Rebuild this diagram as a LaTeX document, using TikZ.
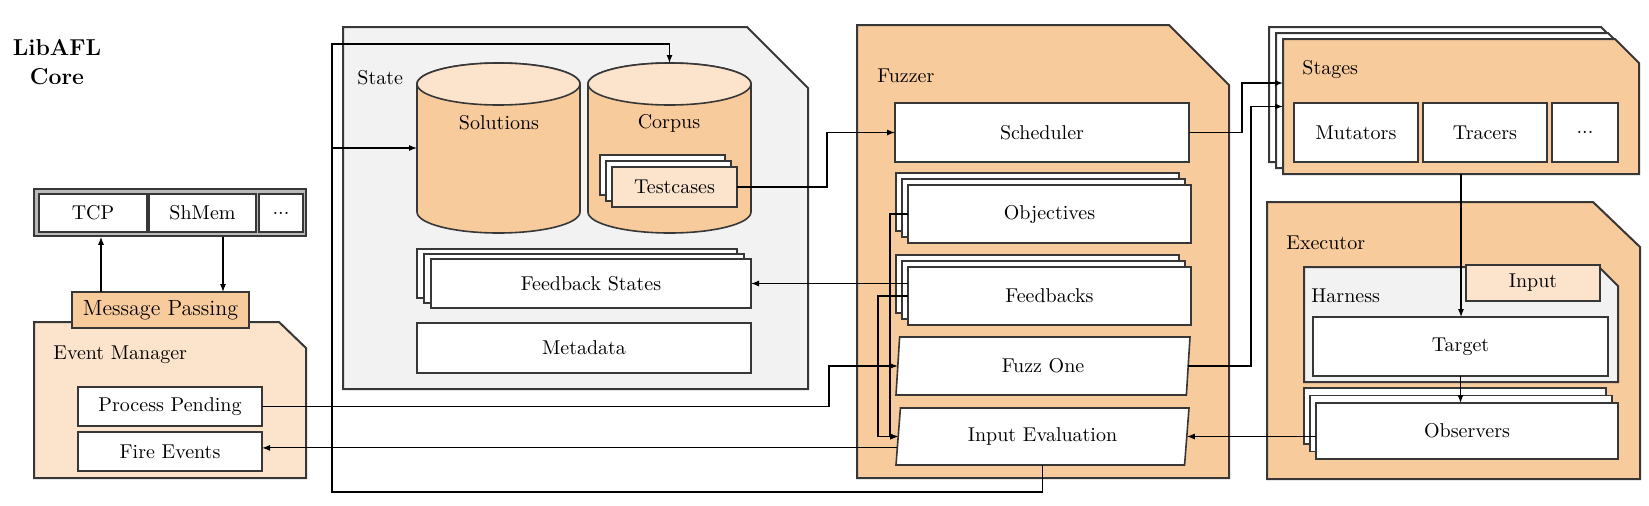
\documentclass[tikz,border=0pt]{standalone}
\usetikzlibrary{arrows.meta,shapes.geometric,shadows,calc}
\definecolor{peach}{RGB}{248,203,157}
\definecolor{lpeach}{RGB}{252,228,204}
\definecolor{lgray}{RGB}{242,242,242}
\definecolor{bcol}{RGB}{55,55,55}
\begin{document}
\begin{tikzpicture}[x=0.5pt,y=-0.5pt,
  box/.style={draw=bcol, line width=0.8pt, fill=white, inner sep=0pt, outer sep=0pt},
  cont/.style={draw=bcol, line width=1pt},
  arr/.style={line width=0.55pt, -{Latex[length=4pt,width=3pt]}},
  lbl/.style={anchor=west, inner sep=0pt},
  plain/.style={inner sep=0pt, outer sep=0pt},
  sh1/.style={copy shadow={shadow xshift=-#1, shadow yshift=#1, fill=white, draw=bcol}},
]
\useasboundingbox (0,0) rectangle (1649,505);

% title
\node[plain, font=\fontsize{11.5}{14.75}\selectfont\bfseries, align=center] (title) at (57,62) {LibAFL\\Core};

% communication channels
\node[draw=bcol, line width=0.8pt, fill=gray!55, minimum width=136pt, minimum height=23.5pt, inner sep=0pt] (tcpg) at (170,212.5) {};
\node[box, minimum width=54pt, minimum height=19pt] (tcp) at (93,213) {TCP};
\node[box, minimum width=53.5pt, minimum height=19pt] (shm) at (202.5,213) {ShMem};
\node[box, minimum width=22pt, minimum height=19pt] (tdots) at (281,213) {...};

% event manager
\draw[cont, fill=lpeach] (34,322) -- (279,322) -- (306,348) -- (306,478) -- (34,478) -- cycle;
\node[box, fill=peach, minimum width=88.5pt, minimum height=18pt, font=\fontsize{11}{13}\selectfont] (mp) at (160.5,310) {Message Passing};
\node[lbl] (eml) at (53,355) {Event Manager};
\node[box, minimum width=92pt, minimum height=19.5pt] (pp) at (170,406.5) {Process Pending};
\node[box, minimum width=92pt, minimum height=19.5pt] (fe) at (170,451.5) {Fire Events};

% state
\draw[cont, fill=lgray] (343,27) -- (747,27) -- (808,88) -- (808,389) -- (343,389) -- cycle;
\node[lbl] (stl) at (357,78) {State};

% solutions cylinder
\filldraw[draw=bcol, line width=0.8pt, fill=peach] (417,84) -- (417,212) arc[start angle=180,end angle=360,x radius=40.75pt,y radius=10.5pt] -- (580,84) arc[start angle=0,end angle=180,x radius=40.75pt,y radius=10.5pt] -- cycle;
\filldraw[draw=bcol, line width=0.8pt, fill=lpeach] (498.5,84) ellipse[x radius=40.75pt, y radius=10.5pt];
\node[plain, minimum width=81.5pt, minimum height=85pt] (sol) at (498.5,148) {};
\node[plain] (solt) at (499,123) {Solutions};

% corpus cylinder
\filldraw[draw=bcol, line width=0.8pt, fill=peach] (588,84) -- (588,212) arc[start angle=180,end angle=360,x radius=40.75pt,y radius=10.5pt] -- (751,84) arc[start angle=0,end angle=180,x radius=40.75pt,y radius=10.5pt] -- cycle;
\filldraw[draw=bcol, line width=0.8pt, fill=lpeach] (669.5,84) ellipse[x radius=40.75pt, y radius=10.5pt];
\node[plain, minimum width=81.5pt, minimum height=85pt] (cor) at (669.5,148) {};
\node[plain] (cort) at (669,123) {Corpus};

\node[box, fill=lpeach, copy shadow={shadow xshift=-6pt, shadow yshift=6pt, fill=white, draw=bcol}, copy shadow={shadow xshift=-3pt, shadow yshift=3pt, fill=white, draw=bcol}, minimum width=62.5pt, minimum height=20pt] (tc) at (674.5,187) {Testcases};

\node[box, copy shadow={shadow xshift=-7pt, shadow yshift=5pt, fill=white, draw=bcol}, copy shadow={shadow xshift=-3.5pt, shadow yshift=2.5pt, fill=white, draw=bcol}, minimum width=160pt, minimum height=24.5pt] (fbs) at (591,283.5) {Feedback States};
\node[box, minimum width=167pt, minimum height=25pt] (md) at (584,348) {Metadata};

% fuzzer
\draw[cont, fill=peach] (857,25) -- (1169,25) -- (1229,85) -- (1229,478) -- (857,478) -- cycle;
\node[lbl] (fzl) at (877,76) {Fuzzer};
\node[box, minimum width=147pt, minimum height=29.5pt] (sch) at (1042,132.5) {Scheduler};
\node[box, copy shadow={shadow xshift=-6pt, shadow yshift=6pt, fill=white, draw=bcol}, copy shadow={shadow xshift=-3pt, shadow yshift=3pt, fill=white, draw=bcol}, minimum width=141.5pt, minimum height=29pt] (obj) at (1049.5,214) {Objectives};
\node[box, copy shadow={shadow xshift=-6pt, shadow yshift=6pt, fill=white, draw=bcol}, copy shadow={shadow xshift=-3pt, shadow yshift=3pt, fill=white, draw=bcol}, minimum width=141.5pt, minimum height=29pt] (fb) at (1049.5,296) {Feedbacks};
\node[box, trapezium, trapezium left angle=76, trapezium right angle=104, trapezium stretches body=true, minimum width=147pt, minimum height=29pt] (fo) at (1043,366) {Fuzz One};
\node[box, trapezium, trapezium left angle=76, trapezium right angle=104, trapezium stretches body=true, minimum width=146.5pt, minimum height=28.5pt] (ie) at (1042.5,436.5) {Input Evaluation};

% stages
\draw[cont, fill=white] (1269,27) -- (1601,27) -- (1625,51) -- (1625,162) -- (1269,162) -- cycle;
\draw[cont, fill=white] (1276,33) -- (1608,33) -- (1632,57) -- (1632,168) -- (1276,168) -- cycle;
\draw[cont, fill=peach] (1283,39) -- (1615,39) -- (1639,63) -- (1639,174) -- (1283,174) -- cycle;
\node[plain, minimum width=178pt, minimum height=67.5pt] (stg) at (1461,106.5) {};
\node[lbl] (stgl) at (1302,70) {Stages};
\node[box, minimum width=62pt, minimum height=29.5pt] (mut) at (1356,132.5) {Mutators};
\node[box, minimum width=62pt, minimum height=29.5pt] (trc) at (1485,132.5) {Tracers};
\node[box, minimum width=33pt, minimum height=29.5pt] (sdots) at (1585,132.5) {...};

% executor
\draw[cont, fill=peach] (1267,202) -- (1593,202) -- (1640,247) -- (1640,479) -- (1267,479) -- cycle;
\node[lbl] (exl) at (1286,243) {Executor};
\draw[cont, fill=lgray] (1304,267) -- (1599,267) -- (1618,286) -- (1618,382) -- (1304,382) -- cycle;
\node[lbl] (hl) at (1311,296) {Harness};
\node[box, fill=lpeach, minimum width=67pt, minimum height=18pt] (inp) at (1533,283) {Input};
\node[box, minimum width=147.5pt, minimum height=29.5pt] (tgt) at (1460.5,346.5) {Target};
\node[box, copy shadow={shadow xshift=-6pt, shadow yshift=7.5pt, fill=white, draw=bcol}, copy shadow={shadow xshift=-3pt, shadow yshift=3.75pt, fill=white, draw=bcol}, minimum width=151pt, minimum height=28pt] (obs) at (1467,431) {Observers};

% helper coordinates
\coordinate (m1) at (101,0);
\coordinate (m2) at (223,0);
\coordinate (busb) at (332,492);
\coordinate (bust) at (332,44);
\coordinate (p1) at (829,407);
\coordinate (t1) at (827,187);
\coordinate (o1) at (890,300);
\coordinate (f1) at (878,300);
\coordinate (s1) at (1242,83);
\coordinate (s2) at (1251,106.5);
\coordinate (iefe) at ($(ie.bottom left corner)!0.3!(ie.top left corner)$);

% connectors
\draw[arr] (m1 |- mp.north) -- (m1 |- tcpg.south);
\draw[arr] (m2 |- tcpg.south) -- (m2 |- mp.north);
\draw[arr] (pp.east) -- (p1 |- pp.east) -- (p1 |- fo.west) -- (fo.west);
\draw[arr] (iefe) -- (fe.east |- iefe);
\draw[arr] (ie.south) -- (ie.south |- busb) -- (busb) -- (bust) -- (cor.north |- bust) -- (cor.north);
\draw[arr] (bust |- sol.west) -- (sol.west);
\draw[arr] (tc.east) -- (t1 |- tc.east) -- (t1 |- sch.west) -- (sch.west);
\draw[arr] (fb.west |- fbs.east) -- (fbs.east);
\draw[arr] (obj.west) -- (o1 |- obj.west) -- (o1 |- ie.west) -- (ie.west);
\draw[arr] (fb.west) -- (f1 |- fb.west) -- (f1 |- ie.west) -- (ie.west);
\draw[arr] (sch.east) -- (s1 |- sch.east) -- (s1) -- (stg.west |- s1);
\draw[arr] (fo.east) -- (s2 |- fo.east) -- (s2) -- (stg.west);
\draw[arr] (stg.south) -- (stg.south |- tgt.north);
\draw[arr] (tgt.south) -- (tgt.south |- obs.north);
\draw[arr] (obs.west |- ie.east) -- (ie.east);
\end{tikzpicture}
\end{document}
